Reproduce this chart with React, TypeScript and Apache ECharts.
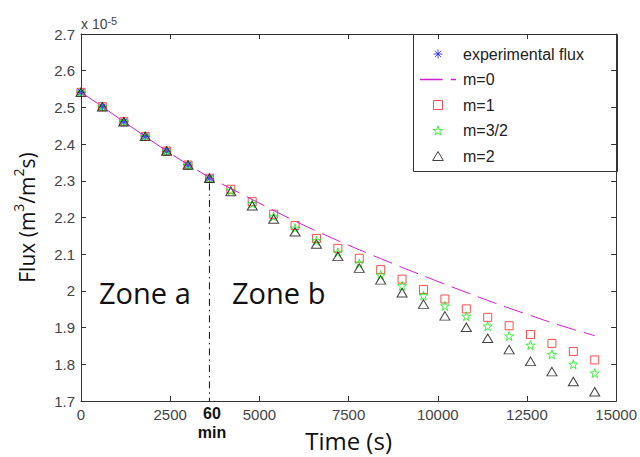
import React, { useEffect, useRef } from "react";
import * as echarts from "echarts";

// Time (s) at which the models were evaluated
const times = [0, 600, 1200, 1800, 2400, 3000, 3600, 4200, 4800, 5400, 6000, 6600, 7200, 7800, 8400, 9000, 9600, 10200, 10800, 11400, 12000, 12600, 13200, 13800, 14400];
// Experimental flux (x 1e-5), zone a only
const expFlux = [2.541, 2.502, 2.461, 2.421, 2.381, 2.343, 2.307];
// Model curves (x 1e-5)
const m0Flux = [2.541, 2.502, 2.461, 2.421, 2.381, 2.344, 2.309, 2.279, 2.249, 2.219, 2.19, 2.163, 2.137, 2.112, 2.088, 2.064, 2.041, 2.018, 1.996, 1.974, 1.953, 1.933, 1.913, 1.895, 1.878];
const m1Flux = [2.541, 2.502, 2.461, 2.421, 2.381, 2.343, 2.307, 2.277, 2.243, 2.209, 2.178, 2.143, 2.116, 2.089, 2.058, 2.032, 2.004, 1.978, 1.951, 1.928, 1.905, 1.881, 1.857, 1.835, 1.812];
const m32Flux = [2.541, 2.502, 2.461, 2.421, 2.381, 2.343, 2.307, 2.274, 2.238, 2.203, 2.171, 2.137, 2.105, 2.075, 2.043, 2.014, 1.987, 1.959, 1.931, 1.904, 1.877, 1.852, 1.827, 1.8, 1.776];
const m2Flux = [2.541, 2.502, 2.461, 2.421, 2.381, 2.343, 2.307, 2.271, 2.232, 2.196, 2.161, 2.128, 2.094, 2.062, 2.03, 1.995, 1.964, 1.932, 1.901, 1.871, 1.84, 1.808, 1.78, 1.753, 1.725];

const seriesNames = ["experimental flux", "m=0", "m=1", "m=3/2", "m=2"];
const xMin = 0, xMax = 15000, xStep = 2500;
const yMin = 1.7, yMax = 2.7, yStep = 0.1;
const zoneBoundaryTime = 3600;
const zoneBoundaryFlux = [2.293, 1.7];

const pairs = (vals: number[]) => vals.map((v, i) => [times[i], v]);

const ASTERISK = "path://M5,0L5,10M0,5L10,5M1.6,1.6L8.4,8.4M8.4,1.6L1.6,8.4";
const STAR = "path://M50,2L61,36L97,36L68,57L79,92L50,71L21,92L32,57L3,36L39,36Z";
const SQUARE = "path://M0,0L10,0L10,10L0,10Z";
const TRIANGLE = "path://M5,0L10,8.5L0,8.5Z";
const DASH_ICON = "path://M0,0L22,0L22,1.4L0,1.4ZM30,0L35,0L35,1.4L30,1.4Z";

const axisCommon = {
  type: "value" as const,
  axisLine: { show: true, onZero: false, lineStyle: { color: "#333", width: 1 } },
  axisTick: { show: true, inside: true, length: 5, lineStyle: { color: "#333" } },
  splitLine: { show: false },
};

export default function App() {
  const ref = useRef<HTMLDivElement>(null);
  useEffect(() => {
    if (!ref.current) return;
    const chart = echarts.init(ref.current, undefined, { renderer: "svg" });
    const tickLabel = {
      color: "#444",
      fontSize: 15,
      fontFamily: "Liberation Sans",
      margin: 6,
      formatter: (v: number) => String(Math.round(v * 1000) / 1000),
    };
    chart.setOption({
      animation: false,
      backgroundColor: "#fff",
      grid: { left: 81, right: 22, top: 34, bottom: 55, containLabel: false },
      xAxis: [
        {
          ...axisCommon,
          min: xMin, max: xMax, interval: xStep,
          axisLabel: tickLabel,
          name: "Time (s)",
          nameLocation: "middle",
          nameGap: 27,
          nameTextStyle: { fontFamily: "Open Sans", fontSize: 24, color: "#111" },
        },
        { ...axisCommon, position: "top", min: xMin, max: xMax, interval: xStep, axisLabel: { show: false } },
      ],
      yAxis: [
        {
          ...axisCommon,
          min: yMin, max: yMax, interval: yStep,
          axisLabel: tickLabel,
          name: "{a|Flux (m}{s|3}{a|/m}{s|2}{a|s)}",
          nameLocation: "middle",
          nameRotate: 90,
          nameGap: 44,
          nameTextStyle: {
            color: "#111",
            rich: {
              a: { fontFamily: "Open Sans", fontSize: 21, color: "#111", lineHeight: 26, verticalAlign: "bottom" },
              s: { fontFamily: "Open Sans", fontSize: 14, color: "#111", lineHeight: 14, verticalAlign: "top" },
            },
          },
        },
        { ...axisCommon, position: "right", min: yMin, max: yMax, interval: yStep, axisLabel: { show: false } },
      ],
      legend: {
        data: [
          { name: seriesNames[0] },
          { name: seriesNames[1], icon: DASH_ICON },
          { name: seriesNames[2] },
          { name: seriesNames[3] },
          { name: seriesNames[4] },
        ],
        orient: "vertical",
        left: 413,
        top: 34,
        padding: [12, 0, 0, 7],
        itemWidth: 36,
        itemHeight: 9,
        itemGap: 9.5,
        selectedMode: false,
        symbolKeepAspect: true,
        itemStyle: { borderWidth: 1 },
        textStyle: { fontFamily: "Liberation Sans", fontSize: 16, color: "#222", lineHeight: 16, padding: [0, 0, 0, 2] },
      },
      graphic: [
        {
          type: "rect",
          shape: { x: 413.5, y: 34.5, width: 204, height: 137 },
          style: { fill: "none", stroke: "#333", lineWidth: 1 },
          silent: true,
        },
        {
          type: "text",
          x: 81, y: 31,
          style: {
            text: "{a|x 10}{b|-5}",
            rich: {
              a: { fontFamily: "Liberation Sans", fontSize: 14, fill: "#444", verticalAlign: "bottom", lineHeight: 16 },
              b: { fontFamily: "Liberation Sans", fontSize: 11, fill: "#444", verticalAlign: "top", lineHeight: 10 },
            },
            verticalAlign: "bottom",
          },
        },
        {
          type: "text", x: 99, y: 292,
          style: { text: "Zone a", fontFamily: "Open Sans", fontSize: 29, fill: "#111", verticalAlign: "middle" },
        },
        {
          type: "text", x: 232, y: 292,
          style: { text: "Zone b", fontFamily: "Open Sans", fontSize: 29, fill: "#111", verticalAlign: "middle" },
        },
        {
          type: "text", x: 212, y: 413.5,
          style: { text: "60", fontFamily: "Liberation Sans", fontWeight: "bold", fontSize: 16, fill: "#111", align: "center", verticalAlign: "middle" },
        },
        {
          type: "text", x: 212, y: 432.5,
          style: { text: "min", fontFamily: "Liberation Sans", fontWeight: "bold", fontSize: 16, fill: "#111", align: "center", verticalAlign: "middle" },
        },
      ],
      series: [
        {
          name: "m=0",
          type: "line",
          data: pairs(m0Flux),
          symbol: "none",
          showSymbol: false,
          lineStyle: { color: "#cc22cc", width: 1, type: [20, 8] },
          itemStyle: { color: "#cc22cc" },
          silent: true,
        },
        {
          name: "experimental flux",
          type: "scatter",
          data: expFlux.map((v, i) => [times[i], v]),
          symbol: ASTERISK,
          symbolSize: 9,
          itemStyle: { color: "transparent", borderColor: "#1a1aff", borderWidth: 1.2 },
          silent: true,
        },
        {
          name: "m=1",
          type: "scatter",
          data: pairs(m1Flux),
          symbol: SQUARE,
          symbolSize: 8,
          itemStyle: { color: "transparent", borderColor: "#ff2222", borderWidth: 1 },
          silent: true,
        },
        {
          name: "m=3/2",
          type: "scatter",
          data: pairs(m32Flux),
          symbol: STAR,
          symbolSize: 9,
          itemStyle: { color: "transparent", borderColor: "#11ee11", borderWidth: 1 },
          silent: true,
        },
        {
          name: "m=2",
          type: "scatter",
          data: pairs(m2Flux),
          symbol: TRIANGLE,
          symbolSize: [10, 8.5],
          itemStyle: { color: "transparent", borderColor: "#111", borderWidth: 1 },
          silent: true,
        },
        {
          name: "zone boundary",
          type: "line",
          data: zoneBoundaryFlux.map((v) => [zoneBoundaryTime, v]),
          symbol: "none",
          lineStyle: { color: "#111", width: 1, type: [7, 4, 1.5, 4] },
          silent: true,
        },
      ],
    });
    return () => chart.dispose();
  }, []);
  return <div ref={ref} style={{ position: "fixed", left: 0, top: 0, width: 640, height: 457 }} />;
}
